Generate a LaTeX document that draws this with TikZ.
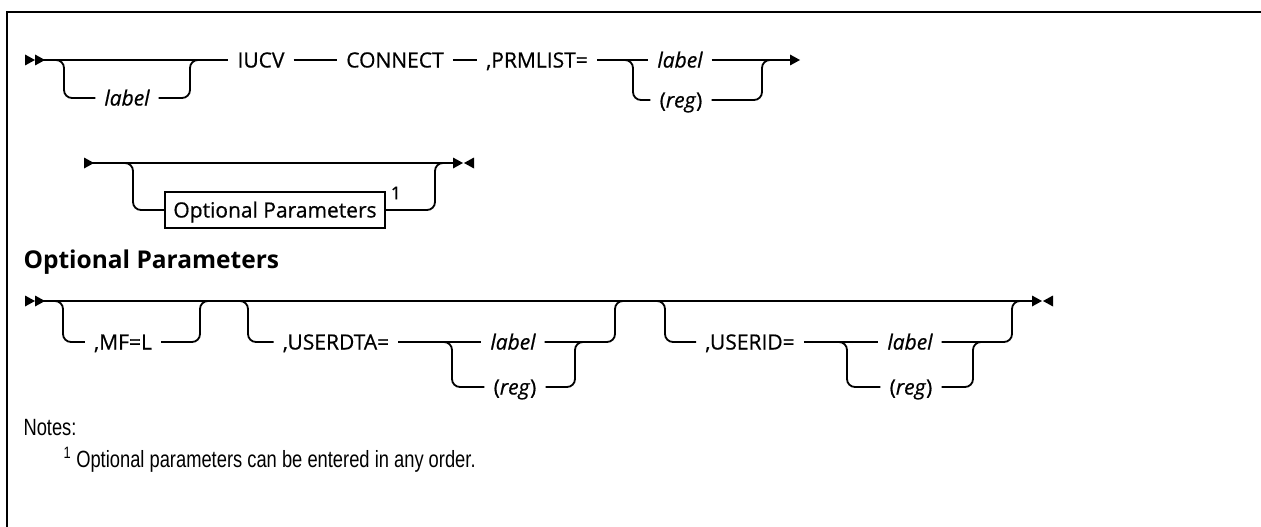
\documentclass[tikz,border=0pt]{standalone}
\usepackage{fontspec}
\setmainfont{Open Sans}
\newfontfamily\railfont[FakeBold=0.6]{Open Sans}
\newfontfamily\notefont[FakeStretch=0.78]{Liberation Sans}
\usetikzlibrary{positioning}
\newcommand{\rr}{\railfont\fontsize{21}{24}\selectfont}
% pointe vers la droite, base en #1
\newcommand{\railtip}[1]{\fill #1 +(0,-5.5) -- +(10,0) -- +(0,5.5) -- cycle;}
% pointe vers la gauche, base en #1
\newcommand{\railtipL}[1]{\fill #1 +(0,-5.5) -- +(-10,0) -- +(0,5.5) -- cycle;}

\begin{document}
\begin{tikzpicture}[x=1pt, y=-1pt,
    rail/.style={line width=1.8pt, rounded corners=8pt},
    kw/.style={font=\rr, inner xsep=9pt, inner ysep=0pt, text height=15pt, text depth=0pt},
    var/.style={kw, font=\rr\itshape},
    frame/.style={line width=2.2pt}]
  \useasboundingbox (0,0) rectangle (1261,527);
  % Cadre
  \draw[frame] (1261,12) -| (7,527);

  % Ligne 1
  \node[var] (lab1) at (127,98) {label};
  \node[kw] (iucv) at (261,60) {IUCV};
  \node[kw] (conn) at (395,60) {CONNECT};
  \node[kw] (prm) at (537,60) {,PRMLIST=};
  \node[var] (lab2) at (680,60) {label};
  \node[kw] (reg2) at (681,100) {(\textit{reg})};
  \coordinate (s1) at (40,60);
  \coordinate (e1) at (790,60);
  \railtip{(25,60)} \railtip{(35,60)}
  \draw[rail] (s1) -- (iucv.west);
  \draw[rail] (54,60) -| (64,98) -- (lab1.west);
  \draw[rail] (lab1.east) -- (190,98) |- (200,60);
  \draw[rail] (iucv.east) -- (conn.west);
  \draw[rail] (conn.east) -- (prm.west);
  \draw[rail] (prm.east) -- (lab2.west);
  \draw[rail] (623,60) -| (633,100) -- (reg2.west);
  \draw[rail] (lab2.east) -- (e1);
  \draw[rail] (reg2.east) -- (762,100) |- (772,60);
  \railtip{(e1)}

  % Ligne 2
  \node[draw, line width=1.4pt, font=\rr, text height=15pt, text depth=0pt,
        minimum width=220pt, minimum height=36pt]
      (opt) at (275,210) {Optional Parameters};
  \node[font=\railfont\fontsize{18}{20}\selectfont, inner sep=0pt] (ref1) at (396,193) {1};
  \coordinate (s2) at (90,163);
  \coordinate (e2) at (453,163);
  \railtip{(84,163)}
  \draw[rail] (s2) -- (e2);
  \draw[rail] (123,163) -| (133,210) -- (opt.west);
  \draw[rail] (opt.east) -- (435,210) |- (445,163);
  \railtip{(e2)} \railtipL{(474,163)}

  % Titre
  \node[font=\fontsize{24.5}{28}\selectfont\bfseries, anchor=west] (hdr) at (20,262)
      {Optional Parameters};

  % Ligne 3
  \node[kw] (mf) at (123,342) {,MF=L};
  \node[kw] (ud) at (336,342) {,USERDTA=};
  \node[var] (lab3) at (513,342) {label};
  \node[kw] (reg3) at (515,387) {(\textit{reg})};
  \node[kw] (uid) at (750,342) {,USERID=};
  \node[var] (lab4) at (910,342) {label};
  \node[kw] (reg4) at (911,387) {(\textit{reg})};
  \coordinate (s3) at (40,301);
  \coordinate (e3) at (1032,301);
  \railtip{(25,301)} \railtip{(35,301)}
  \draw[rail] (s3) -- (e3);
  \draw[rail] (53,301) -| (63,342) -- (mf.west);
  \draw[rail] (mf.east) -- (200,342) |- (210,301);
  \draw[rail] (238,301) -| (248,342) -- (ud.west);
  \draw[rail] (ud.east) -- (lab3.west);
  \draw[rail] (442,342) -| (452,387) -- (reg3.west);
  \draw[rail] (reg3.east) -- (575,387) |- (585,342);
  \draw[rail] (lab3.east) -- (615,342) |- (625,301);
  \draw[rail] (655,301) -| (665,342) -- (uid.west);
  \draw[rail] (uid.east) -- (lab4.west);
  \draw[rail] (837,342) -| (847,387) -- (reg4.west);
  \draw[rail] (reg4.east) -- (973,387) |- (983,342);
  \draw[rail] (lab4.east) -- (1012,342) |- (1022,301);
  \railtip{(e3)} \railtipL{(1053,301)}

  % Notes
  \node[font=\notefont\fontsize{23.5}{26}\selectfont, anchor=west] (notes) at (20,428)
      {Notes:};
  \node[font=\notefont\fontsize{23.5}{26}\selectfont, anchor=west] (note1) at (60,460)
      {\textsuperscript{1} Optional parameters can be entered in any order.};
\end{tikzpicture}
\end{document}
